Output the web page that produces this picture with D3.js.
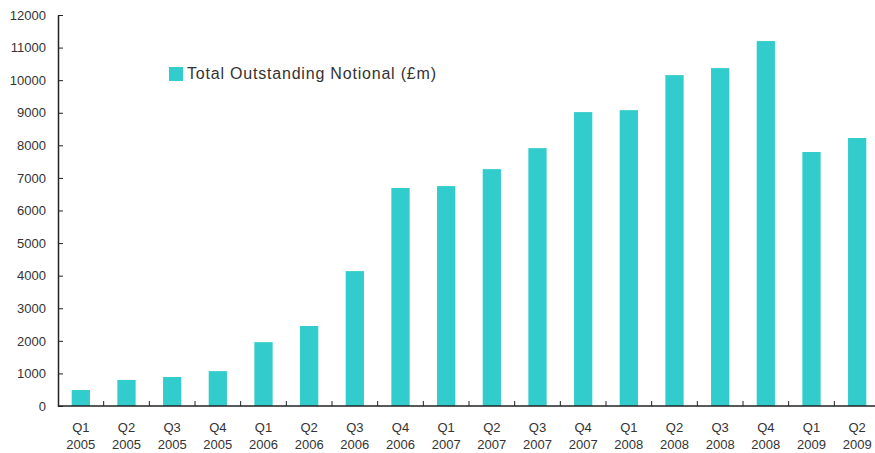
<!DOCTYPE html>
<html>
<head>
<meta charset="utf-8">
<script src="https://cdn.jsdelivr.net/npm/d3@7"></script>
<style>
  body { margin: 0; background: #fff; }
  text { font-family: "Liberation Sans", Arial, sans-serif; fill: #333; }
</style>
</head>
<body>
<div id="chart"></div>
<script>
// quarters and total outstanding notional (£m)
var quarters = ["Q1", "Q2", "Q3", "Q4", "Q1", "Q2", "Q3", "Q4", "Q1", "Q2", "Q3", "Q4", "Q1", "Q2", "Q3", "Q4", "Q1", "Q2"];
var years = ["2005", "2005", "2005", "2005", "2006", "2006", "2006", "2006", "2007", "2007", "2007", "2007", "2008", "2008", "2008", "2008", "2009", "2009"];
var notional = [490, 800, 890, 1070, 1960, 2455, 4140, 6690, 6750, 7270, 7915, 9020, 9080, 10155, 10370, 11200, 7795, 8225];
var yTicks = [0, 1000, 2000, 3000, 4000, 5000, 6000, 7000, 8000, 9000, 10000, 11000, 12000];
var seriesName = "Total Outstanding Notional (£m)";

function init() {
    const w = 875;
    const h = 453;
    var left = 58, top = 15, bottom = 406, right = 880;

    var keys = notional.map(function (d, i) { return i; });

    var x = d3.scaleBand()
        .domain(keys)
        .range([left, right])
        .paddingInner(0.6)
        .paddingOuter(0.3);

    var y = d3.scaleLinear()
        .domain([0, 12000])
        .range([bottom, top]);

    var svg = d3.select("#chart")
        .append("svg")
        .attr("width", w)
        .attr("height", h);

    // bars
    svg.selectAll("rect.bar")
        .data(notional)
        .enter()
        .append("rect")
        .attr("class", "bar")
        .attr("x", function (d, i) { return x(i); })
        .attr("y", function (d) { return y(d); })
        .attr("width", x.bandwidth())
        .attr("height", function (d) { return bottom - y(d); })
        .attr("fill", "#33cccc");

    // y axis, ticks pointing into the plot
    var yAxis = svg.append("g")
        .attr("transform", "translate(" + left + ",0)")
        .call(d3.axisRight(y).tickValues(yTicks).tickSize(5).tickSizeOuter(0).tickFormat(d3.format("d")));
    yAxis.select(".domain").attr("stroke", "#222").attr("stroke-width", 1.5);
    yAxis.selectAll(".tick line").attr("stroke", "#222");
    yAxis.selectAll(".tick text")
        .attr("x", -12)
        .attr("text-anchor", "end")
        .attr("font-size", 13)
        .attr("fill", "#333");

    // x axis: line with upward ticks at band boundaries
    var step = x.step();
    var xg = svg.append("g");
    xg.append("line")
        .attr("x1", left).attr("x2", right)
        .attr("y1", bottom).attr("y2", bottom)
        .attr("stroke", "#222").attr("stroke-width", 1.5);
    xg.selectAll("line.tick")
        .data(keys.slice(1))
        .enter()
        .append("line")
        .attr("class", "tick")
        .attr("x1", function (d) { return x(d) + x.bandwidth() / 2 - step / 2; })
        .attr("x2", function (d) { return x(d) + x.bandwidth() / 2 - step / 2; })
        .attr("y1", bottom).attr("y2", bottom - 5)
        .attr("stroke", "#222");

    var labels = xg.selectAll("text.lbl")
        .data(keys)
        .enter()
        .append("text")
        .attr("class", "lbl")
        .attr("text-anchor", "middle")
        .attr("font-size", 13)
        .attr("x", function (d) { return x(d) + x.bandwidth() / 2; });
    labels.append("tspan")
        .attr("x", function (d) { return x(d) + x.bandwidth() / 2; })
        .attr("y", 432)
        .text(function (d) { return quarters[d]; });
    labels.append("tspan")
        .attr("x", function (d) { return x(d) + x.bandwidth() / 2; })
        .attr("y", 449)
        .text(function (d) { return years[d]; });

    // legend
    var legend = svg.append("g").attr("transform", "translate(169,67)");
    legend.append("rect")
        .attr("width", 14).attr("height", 14)
        .attr("fill", "#33cccc");
    legend.append("text")
        .attr("x", 18).attr("y", 12)
        .attr("font-size", 16)
        .attr("letter-spacing", 0.8)
        .text(seriesName);
}
window.onload = init();
</script>
</body>
</html>
